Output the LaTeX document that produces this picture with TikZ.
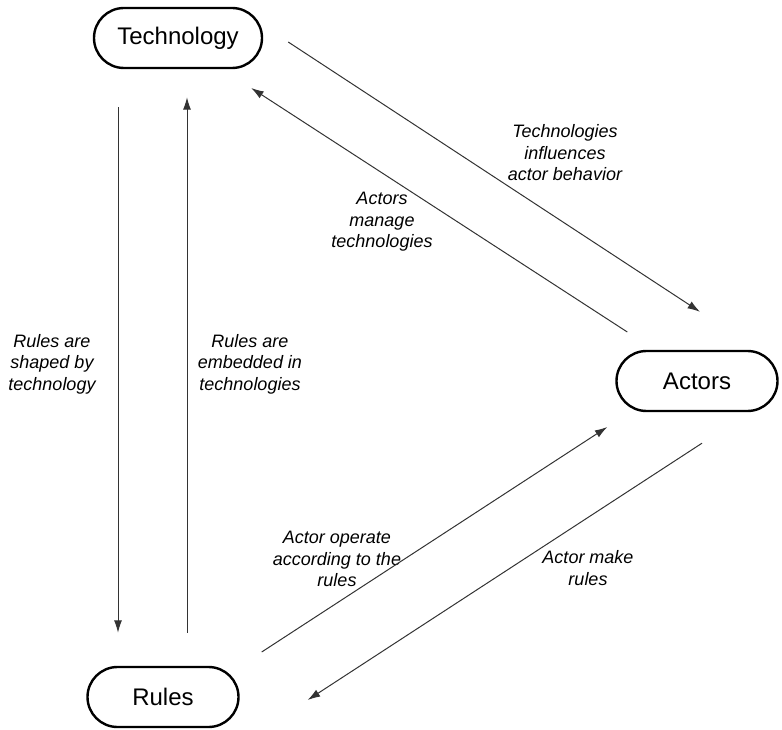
\documentclass[tikz,border=0pt]{standalone}
\usepackage{fontspec}
\setmainfont{Liberation Sans}
\usetikzlibrary{positioning,calc,arrows.meta}

\begin{document}
\begin{tikzpicture}[x=1pt,y=-1pt,
				pill/.style={draw,line width=2.4pt,rectangle,rounded corners=30pt,minimum width=168pt,minimum height=60pt,font=\fontsize{24}{28}\selectfont},
				lbl/.style={align=center,font=\fontsize{18}{21.5}\selectfont\itshape},
				arr/.style={-{Latex[length=12.5pt,width=8pt]},line width=1pt,draw=black!80}]
				\useasboundingbox (0,0) rectangle (782,730);
				\node[pill] (TECH)   at (178,38)  {Technology};
				\node[pill,minimum width=161pt] (ACTORS) at (697,381) {Actors};
				\node[pill,minimum width=151pt] (RULES)  at (163,697) {Rules};

				\node[lbl] (SHAPED)     at (52,364)  {Rules are\\shaped by\\technology};
				\node[lbl] (EMBEDDED)   at (250,364) {Rules are\\embedded in\\technologies};
				\node[lbl] (INFLUENCES) at (565,153) {Technologies\\influences\\actor behavior};
				\node[lbl] (MANAGE)     at (382,222) {Actors\\manage\\technologies};
				\node[lbl] (OPERATE)    at (337,559) {Actor operate\\according to the\\rules};
				\node[lbl] (MAKE)       at (588,568) {Actor make\\rules};

				\draw[arr] ([shift={(-60,38)}]TECH.south) -- ([shift={(-45,-33)}]RULES.north);
				\draw[arr] ([shift={(24,-33)}]RULES.north) -- ([shift={(9,28)}]TECH.south);
				\draw[arr] ([shift={(25,4)}]TECH.east) -- ([shift={(3,-38)}]ACTORS.north);
				\draw[arr] ([shift={(12,-49)}]ACTORS.west) -- ([shift={(-12,50)}]TECH.east);
				\draw[arr] ([shift={(22,-45)}]RULES.east) -- ([shift={(-8,46)}]ACTORS.west);
				\draw[arr] ([shift={(5,31)}]ACTORS.south) -- ([shift={(68,3)}]RULES.east);
			\end{tikzpicture}
\end{document}
